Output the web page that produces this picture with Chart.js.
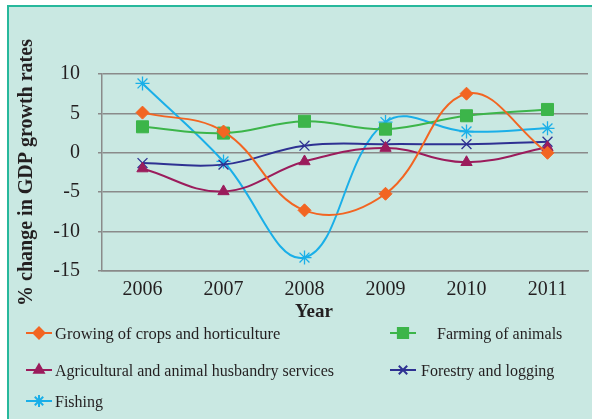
<!DOCTYPE html>
<html>
<head>
<meta charset="utf-8">
<script src="https://cdn.jsdelivr.net/npm/chart.js@4/dist/chart.umd.min.js"></script>
<style>
  html, body { margin: 0; padding: 0; background: #fff; overflow: hidden; }
  #frame {
    position: absolute; left: 7px; top: 5px; right: 0; bottom: 0;
    background: #c9e8e2;
    border-left: 2px solid #27b89c;
    border-top: 2px solid #27b89c;
  }
  #chart { position: absolute; left: 0; top: 0; }
</style>
</head>
<body>
<div id="frame"></div>
<canvas id="chart" width="592" height="419"></canvas>
<script>
// Data
const years = ['2006', '2007', '2008', '2009', '2010', '2011'];
const crops = [5.1, 2.7, -7.3, -5.2, 7.5, 0.0];
const farming = [3.3, 2.5, 4.0, 3.0, 4.7, 5.5];
const agriServices = [-2.0, -4.9, -1.1, 0.6, -1.2, 0.7];
const forestry = [-1.3, -1.5, 0.9, 1.1, 1.1, 1.4];
const fishing = [8.8, -1.1, -13.3, 3.9, 2.7, 3.1];
const yTicks = [-15, -10, -5, 0, 5, 10];

const serif = "'Liberation Serif', 'Times New Roman', serif";
const textColor = '#231f20';

function series(label, data, color, style, radius, bw) {
    return {
        label: label,
        data: data,
        borderColor: color,
        backgroundColor: color,
        pointBackgroundColor: color,
        pointBorderColor: color,
        pointStyle: style,
        pointRadius: radius,
        pointBorderWidth: bw,
        borderWidth: 2,
        tension: 0.4,
        fill: false,
        clip: false
    };
}

const datasets = [
    series('Growing of crops and horticulture', crops, '#f26522', 'rectRot', 6.5, 1),
    series('Farming of animals', farming, '#3cb54a', 'rect', 8.5, 1),
    series('Agricultural and animal husbandry services', agriServices, '#9b1c5c', 'triangle', 6.5, 1),
    series('Forestry and logging', forestry, '#2e3192', 'crossRot', 7, 1.3),
    series('Fishing', fishing, '#1aafe8', 'star', 7, 1.3)
];

// legend slots: [line start x, row y, text x]
const legendSlots = [[26, 333, 55], [390, 333, 437], [26, 370, 55], [390, 370, 421], [26, 401, 55]];

const extras = {
    id: 'extras',
    afterDraw(chart) {
        const ctx = chart.ctx;
        ctx.save();
        // x axis title
        ctx.fillStyle = textColor;
        ctx.font = 'bold 19px ' + serif;
        ctx.textAlign = 'center';
        ctx.textBaseline = 'alphabetic';
        ctx.fillText('Year', 314, 317);
        // legend
        chart.data.datasets.forEach((ds, i) => {
            const [lx, ly, tx] = legendSlots[i];
            ctx.strokeStyle = ds.borderColor;
            ctx.lineWidth = 2;
            ctx.beginPath();
            ctx.moveTo(lx, ly);
            ctx.lineTo(lx + 26, ly);
            ctx.stroke();
            ctx.fillStyle = ds.borderColor;
            Chart.helpers.drawPoint(ctx, {
                pointStyle: ds.pointStyle,
                radius: ds.pointRadius * 0.85,
                borderWidth: ds.pointBorderWidth,
                rotation: 0
            }, lx + 13, ly);
            ctx.fillStyle = textColor;
            ctx.font = (i === 0 ? '16.5px ' : '16px ') + serif;
            ctx.textAlign = 'left';
            ctx.textBaseline = 'alphabetic';
            ctx.fillText(ds.label, tx, ly + 5.5);
        });
        ctx.restore();
    }
};

new Chart(document.getElementById('chart'), {
    type: 'line',
    data: { labels: years, datasets: datasets },
    options: {
        responsive: false,
        animation: false,
        layout: { autoPadding: false, padding: { top: 74, left: 0, right: 4, bottom: 108 } },
        plugins: { legend: { display: false }, tooltip: { enabled: false } },
        scales: {
            x: {
                offset: true,
                grid: { display: false, drawTicks: false },
                border: { display: true, color: '#8a8a8a', width: 1.5 },
                ticks: { color: textColor, font: { family: serif, size: 20 }, padding: 7, maxRotation: 0 },
                afterFit: s => { s.height = 40; s.paddingLeft = 0; s.paddingRight = 0; }
            },
            y: {
                min: -15,
                max: 10,
                afterBuildTicks: s => { s.ticks = yTicks.map(v => ({ value: v })); },
                grid: { color: '#8a8a8a', lineWidth: 1.5, tickLength: 4 },
                border: { display: true, color: '#8a8a8a', width: 1.5 },
                ticks: { color: textColor, font: { family: serif, size: 20 }, padding: 18 },
                title: {
                    display: true,
                    text: '% change in GDP growth rates',
                    color: textColor,
                    font: { family: serif, size: 20, weight: 'bold' },
                    padding: { top: 15, bottom: 0 }
                },
                afterFit: s => { s.width = 102; }
            }
        }
    },
    plugins: [extras]
});
</script>
</body>
</html>
